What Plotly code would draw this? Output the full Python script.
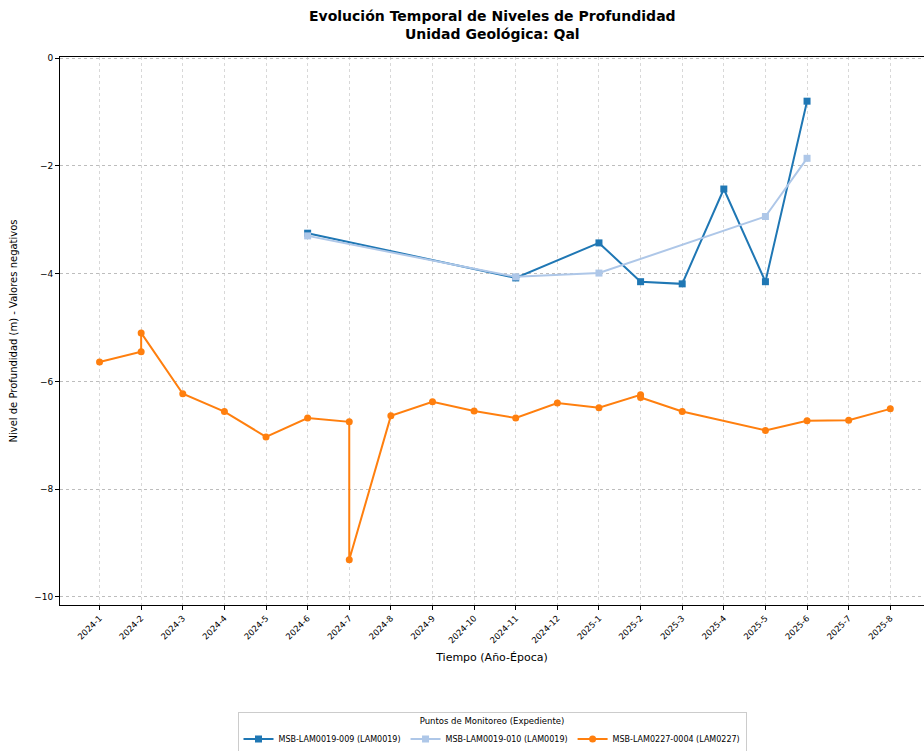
import plotly.graph_objects as go

# Categories (x axis, Año-Época)
categories = ["2024-1", "2024-2", "2024-3", "2024-4", "2024-5", "2024-6", "2024-7",
              "2024-8", "2024-9", "2024-10", "2024-11", "2024-12", "2025-1", "2025-2",
              "2025-3", "2025-4", "2025-5", "2025-6", "2025-7", "2025-8"]

# Series: MSB-LAM0019-009 (LAM0019)
s1_name = "MSB-LAM0019-009 (LAM0019)"
s1_x = ["2024-6", "2024-11", "2025-1", "2025-2", "2025-3", "2025-4", "2025-5", "2025-6"]
s1_y = [-3.25, -4.08, -3.43, -4.15, -4.19, -2.43, -4.15, -0.80]

# Series: MSB-LAM0019-010 (LAM0019)
s2_name = "MSB-LAM0019-010 (LAM0019)"
s2_x = ["2024-6", "2024-11", "2025-1", "2025-5", "2025-6"]
s2_y = [-3.30, -4.06, -3.99, -2.94, -1.86]

# Series: MSB-LAM0227-0004 (LAM0227)
s3_name = "MSB-LAM0227-0004 (LAM0227)"
s3_x = ["2024-1", "2024-2", "2024-2", "2024-3", "2024-4", "2024-5", "2024-6", "2024-7",
        "2024-7", "2024-8", "2024-9", "2024-10", "2024-11", "2024-12", "2025-1", "2025-2",
        "2025-2", "2025-3", "2025-5", "2025-6", "2025-7", "2025-8"]
s3_y = [-5.64, -5.45, -5.10, -6.23, -6.56, -7.03, -6.68, -6.75,
        -9.31, -6.64, -6.38, -6.55, -6.68, -6.40, -6.49, -6.25,
        -6.30, -6.56, -6.91, -6.73, -6.72, -6.51]

y_ticks = [0, -2, -4, -6, -8, -10]
y_tick_labels = ["0", "−2", "−4", "−6", "−8", "−10"]

idx = {c: i for i, c in enumerate(categories)}

fig = go.Figure()
series = [
    (s1_name, s1_x, s1_y, "#1f77b4", "square"),
    (s2_name, s2_x, s2_y, "#aec7e8", "square"),
    (s3_name, s3_x, s3_y, "#ff7f0e", "circle"),
]
for name, xs, ys, color, sym in series:
    fig.add_trace(go.Scatter(
        x=[idx[c] for c in xs], y=ys, name=name, mode="lines+markers",
        line=dict(color=color, width=2),
        marker=dict(color=color, symbol=sym, size=7),
    ))

font_family = "DejaVu Sans"
fig.update_layout(
    width=924, height=751,
    margin=dict(l=60, r=0, t=57, b=146, autoexpand=False),
    paper_bgcolor="white", plot_bgcolor="white",
    font=dict(family=font_family, size=10, color="black"),
    xaxis=dict(
        range=[-0.95, 19.81], automargin=False,
        tickmode="array", tickvals=list(range(len(categories))), ticktext=categories,
        tickangle=-45, tickfont=dict(size=8.5),
        showgrid=True, gridcolor="#d8d8d8", griddash="dot", gridwidth=1,
        showline=True, linecolor="black", linewidth=1, mirror=True,
        ticks="outside", ticklen=4, tickcolor="black",
        zeroline=False,
        title=dict(text="Tiempo (Año-Época)", font=dict(size=11), standoff=8),
    ),
    yaxis=dict(
        range=[-10.15, 0.02], automargin=False,
        tickmode="array", tickvals=y_ticks, ticktext=y_tick_labels,
        tickfont=dict(size=9),
        showgrid=True, gridcolor="#bdbdbd", griddash="dot", gridwidth=1,
        showline=True, linecolor="black", linewidth=1, mirror=True,
        ticks="outside", ticklen=4, tickcolor="black",
        zeroline=False,
        title=dict(text="Nivel de Profundidad (m) - Valores negativos", font=dict(size=10), standoff=14),
    ),
    legend=dict(
        orientation="h", x=0.5, xanchor="center", y=-0.196, yanchor="top",
        bordercolor="#cccccc", borderwidth=1, bgcolor="white",
        font=dict(size=8), itemwidth=30, tracegroupgap=0,
        title=dict(text="Puntos de Monitoreo (Expediente)", side="top center", font=dict(size=8.5)),
    ),
    annotations=[dict(
        text="<b>Evolución Temporal de Niveles de Profundidad<br>Unidad Geológica: Qal</b>",
        x=0.5, xref="paper", y=1.058, yref="paper", xanchor="center", yanchor="middle",
        showarrow=False, font=dict(family=font_family, size=14, color="black"),
    )],
)

fig.write_html("out.html")
